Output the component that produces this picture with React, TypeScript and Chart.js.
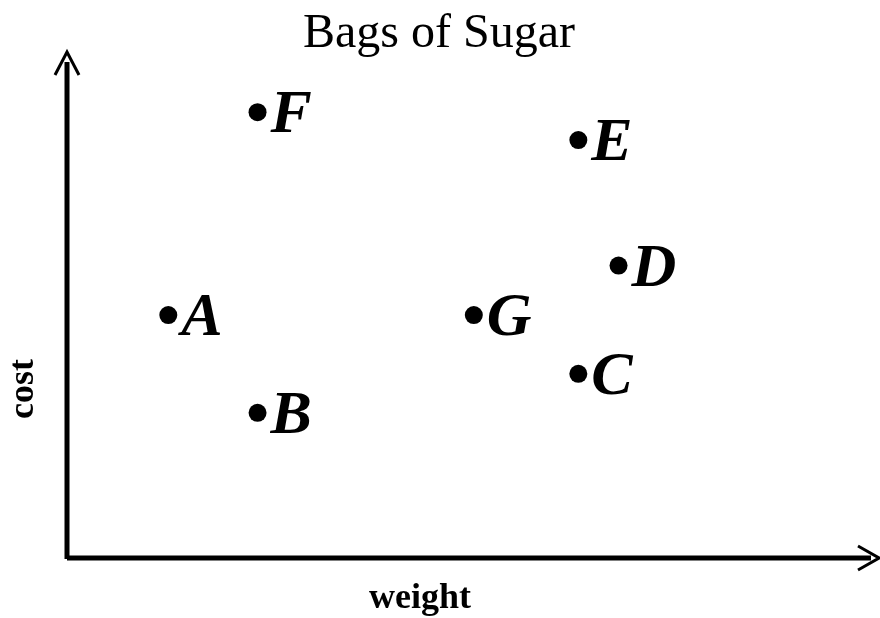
import React, { useEffect, useRef } from "react";
import { Chart, registerables } from "chart.js";

Chart.register(...registerables);

const labels = ["A", "B", "C", "D", "E", "F", "G"];
const weights = [1.26, 2.37, 6.36, 6.86, 6.36, 2.37, 5.06];
const costs = [4.8, 2.87, 3.64, 5.78, 8.26, 8.81, 4.8];
const chartTitle = "Bags of Sugar";
const xTitle = "weight";
const yTitle = "cost";

const SERIF = "'Liberation Serif', 'Times New Roman', serif";

const decorPlugin = {
  id: "decor",
  afterDatasetsDraw(chart: any) {
    const ctx = chart.ctx as CanvasRenderingContext2D;
    const { left, right, top, bottom } = chart.chartArea;
    const xs = chart.scales.x;
    const ys = chart.scales.y;
    ctx.save();
    // axes
    ctx.strokeStyle = "#000";
    ctx.lineCap = "butt";
    ctx.lineWidth = 5;
    ctx.beginPath();
    ctx.moveTo(left, bottom + 1);
    ctx.lineTo(left, top + 10);
    ctx.stroke();
    ctx.beginPath();
    ctx.moveTo(left, bottom);
    ctx.lineTo(right, bottom);
    ctx.stroke();
    // arrow heads
    ctx.lineWidth = 3;
    ctx.lineJoin = "miter";
    ctx.beginPath();
    ctx.moveTo(left - 12, top + 23);
    ctx.lineTo(left, top);
    ctx.lineTo(left + 12, top + 23);
    ctx.stroke();
    ctx.beginPath();
    ctx.moveTo(right - 13, bottom - 12);
    ctx.lineTo(right + 8, bottom);
    ctx.lineTo(right - 13, bottom + 12);
    ctx.stroke();
    // title
    ctx.fillStyle = "#000";
    ctx.textAlign = "center";
    ctx.textBaseline = "alphabetic";
    ctx.font = `normal 48px ${SERIF}`;
    ctx.fillText(chartTitle, 439, 47);
    // axis titles
    ctx.font = `bold 36px ${SERIF}`;
    ctx.fillText(xTitle, 420, 608);
    ctx.save();
    ctx.translate(33, 389);
    ctx.rotate(-Math.PI / 2);
    ctx.fillText(yTitle, 0, 0);
    ctx.restore();
    // point labels
    ctx.textAlign = "left";
    ctx.font = `italic bold 62px ${SERIF}`;
    labels.forEach((lab, i) => {
      const px = xs.getPixelForValue(weights[i]);
      const py = ys.getPixelForValue(costs[i]);
      ctx.fillText(lab, px + 13, py + 20);
    });
    ctx.restore();
  },
};

export default function App() {
  const canvasRef = useRef<HTMLCanvasElement | null>(null);

  useEffect(() => {
    document.body.style.margin = "0";
    const canvas = canvasRef.current;
    if (!canvas) return;
    const chart = new Chart(canvas, {
      type: "scatter",
      data: {
        labels,
        datasets: [
          {
            label: "Bags",
            data: weights.map((w, i) => ({ x: w, y: costs[i] })),
            backgroundColor: "#000",
            borderColor: "#000",
            pointRadius: 9,
            pointHoverRadius: 9,
            borderWidth: 0,
          },
        ],
      },
      options: {
        responsive: false,
        animation: false,
        events: [],
        layout: { padding: { left: 67, right: 2, top: 52, bottom: 60 } },
        scales: {
          x: { type: "linear", min: 0, max: 10, display: false },
          y: { type: "linear", min: 0, max: 10, display: false },
        },
        plugins: {
          legend: { display: false },
          title: { display: false },
          tooltip: { enabled: false },
        },
      },
      plugins: [decorPlugin],
    });
    return () => chart.destroy();
  }, []);

  return (
    <div style={{ width: 880, height: 618, background: "#fff" }}>
      <canvas ref={canvasRef} width={880} height={618} style={{ display: "block" }} />
    </div>
  );
}
